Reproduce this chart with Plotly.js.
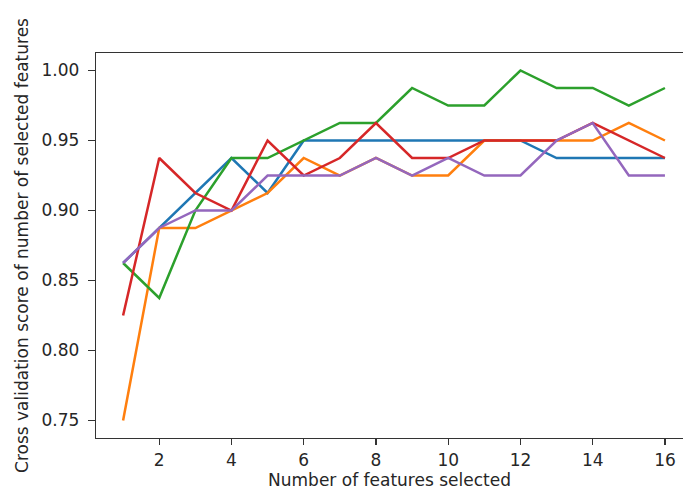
<!DOCTYPE html>
<html>
<head>
<meta charset="utf-8">
<script src="https://cdn.plot.ly/plotly-3.0.1.min.js"></script>
<style>html,body{margin:0;padding:0;background:#fff;}#chart{width:683px;height:494px;}</style>
</head>
<body>
<div id="chart"></div>
<script>
const featureCounts = [1,2,3,4,5,6,7,8,9,10,11,12,13,14,15,16];
const seriesBlue   = [0.8625,0.8875,0.9125,0.9375,0.9125,0.95,0.95,0.95,0.95,0.95,0.95,0.95,0.9375,0.9375,0.9375,0.9375];
const seriesOrange = [0.75,0.8875,0.8875,0.9,0.9125,0.9375,0.925,0.9375,0.925,0.925,0.95,0.95,0.95,0.95,0.9625,0.95];
const seriesGreen  = [0.8625,0.8375,0.9,0.9375,0.9375,0.95,0.9625,0.9625,0.9875,0.975,0.975,1.0,0.9875,0.9875,0.975,0.9875];
const seriesRed    = [0.825,0.9375,0.9125,0.9,0.95,0.925,0.9375,0.9625,0.9375,0.9375,0.95,0.95,0.95,0.9625,0.95,0.9375];
const seriesPurple = [0.8625,0.8875,0.9,0.9,0.925,0.925,0.925,0.9375,0.925,0.9375,0.925,0.925,0.95,0.9625,0.925,0.925];
const xTickVals = [2,4,6,8,10,12,14,16];
const yTickVals = [0.75,0.80,0.85,0.90,0.95,1.00];
const yTickText = ["0.75","0.80","0.85","0.90","0.95","1.00"];

const seriesList = [seriesBlue, seriesOrange, seriesGreen, seriesRed, seriesPurple];
const colors = ["#1f77b4","#ff7f0e","#2ca02c","#d62728","#9467bd"];
const traces = seriesList.map((s,i)=>({
  x: featureCounts, y: s, type:'scatter', mode:'lines',
  line:{color:colors[i], width:2.5}, hoverinfo:'skip', showlegend:false
}));

const font = {family:'DejaVu Sans', size:17, color:'#262626'};
const layout = {
  width:683, height:494,
  margin:{l:96, r:0, t:53, b:56, pad:0},
  paper_bgcolor:'#fff', plot_bgcolor:'#fff',
  font: font,
  showlegend:false,
  xaxis:{
    range:[0.25,16.5], tickmode:'array', tickvals:xTickVals,
    showgrid:false, zeroline:false, showline:true, linecolor:'#333', linewidth:1.3,
    mirror:true, ticks:'outside', ticklen:6, tickwidth:1.3, tickcolor:'#333',
    tickfont:font,
    title:{text:'Number of features selected', font:font, standoff:4}
  },
  yaxis:{
    range:[0.7375,1.0125], tickmode:'array', tickvals:yTickVals, ticktext:yTickText,
    showgrid:false, zeroline:false, showline:true, linecolor:'#333', linewidth:1.3,
    mirror:false, ticks:'outside', ticklen:7, tickwidth:1.3, tickcolor:'#333',
    ticklabelstandoff:5,
    tickfont:font,
    title:{text:'Cross validation score of number of selected features', font:font, standoff:8}
  }
};
Plotly.newPlot('chart', traces, layout, {staticPlot:true, displayModeBar:false});
</script>
</body>
</html>
